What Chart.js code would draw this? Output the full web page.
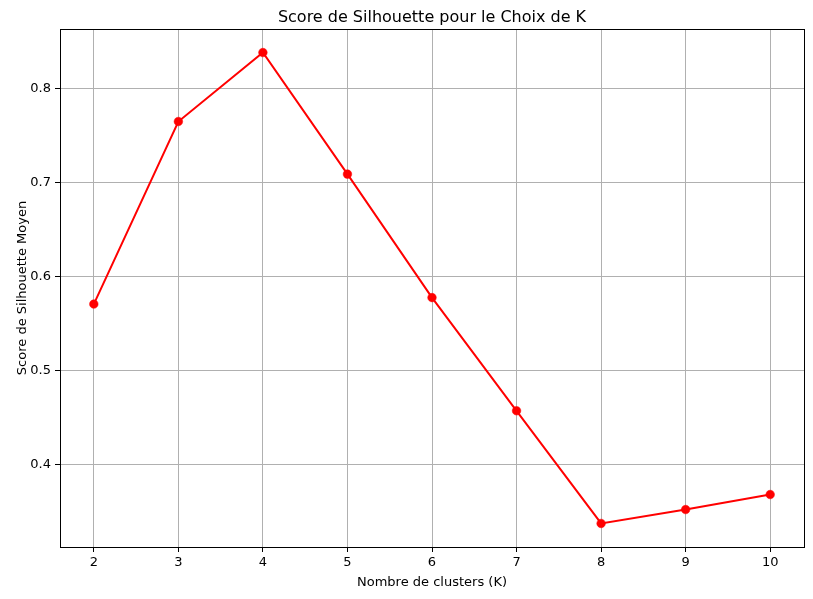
<!DOCTYPE html>
<html>
<head>
<meta charset="utf-8">
<script src="https://cdn.jsdelivr.net/npm/chart.js@4/dist/chart.umd.min.js"></script>
<style>
  html, body { margin: 0; padding: 0; background: #fff; }
  #wrap { width: 813px; height: 599px; }
</style>
</head>
<body>
<div id="wrap"><canvas id="c" width="813" height="599"></canvas></div>
<script>
const kValues = [2, 3, 4, 5, 6, 7, 8, 9, 10];
const silhouetteScores = [0.5705, 0.7648, 0.8382, 0.7088, 0.5774, 0.4569, 0.3370, 0.3518, 0.3678];
const xTicks = [2, 3, 4, 5, 6, 7, 8, 9, 10];
const yTicks = [0.4, 0.5, 0.6, 0.7, 0.8];
const chartTitle = 'Score de Silhouette pour le Choix de K';
const xTitle = 'Nombre de clusters (K)';
const yTitle = 'Score de Silhouette Moyen';

const FONT = "'DejaVu Sans', sans-serif";

const xMinData = Math.min(...kValues), xMaxData = Math.max(...kValues);
const yMinData = Math.min(...silhouetteScores), yMaxData = Math.max(...silhouetteScores);
const xPad = (xMaxData - xMinData) * 0.05;
const yPad = (yMaxData - yMinData) * 0.05;

const framePlugin = {
  id: 'frame',
  afterDraw(chart) {
    const {ctx, chartArea: a} = chart;
    ctx.save();
    ctx.strokeStyle = '#000';
    ctx.lineWidth = 1;
    ctx.strokeRect(Math.round(a.left) + 0.5, Math.round(a.top) + 0.5,
                   Math.round(a.right - a.left) - 1 + 1, Math.round(a.bottom - a.top));
    ctx.fillStyle = '#000';
    ctx.font = '16px ' + FONT;
    ctx.textAlign = 'center';
    ctx.textBaseline = 'alphabetic';
    ctx.fillText(chartTitle, (a.left + a.right) / 2, 22);
    ctx.restore();
  }
};

new Chart(document.getElementById('c'), {
  type: 'line',
  data: {
    datasets: [{
      data: kValues.map((k, i) => ({x: k, y: silhouetteScores[i]})),
      borderColor: '#ff0000',
      backgroundColor: '#ff0000',
      borderWidth: 2,
      pointRadius: 4.3,
      pointBorderWidth: 0.5,
      pointBackgroundColor: '#ff0000',
      pointBorderColor: '#ff0000',
      tension: 0,
      fill: false
    }]
  },
  options: {
    responsive: false,
    animation: false,
    devicePixelRatio: 1,
    layout: { padding: { top: 29, right: 9, left: 0, bottom: 0 } },
    plugins: {
      legend: { display: false },
      title: { display: false },
      tooltip: { enabled: false }
    },
    scales: {
      x: {
        type: 'linear',
        min: xMinData - xPad,
        max: xMaxData + xPad,
        afterBuildTicks(scale) { scale.ticks = xTicks.map(v => ({value: v})); },
        afterFit(scale) { scale.height = 52; },
        grid: { color: '#b0b0b0', lineWidth: 1, tickColor: '#000', tickLength: 5, drawOnChartArea: true },
        border: { display: false },
        ticks: {
          color: '#000', padding: 3, maxRotation: 0, autoSkip: false,
          font: { family: FONT, size: 13 },
          callback: v => String(v)
        },
        title: {
          display: true, text: xTitle, color: '#000',
          font: { family: FONT, size: 13 },
          padding: { top: 0, bottom: 9 }
        }
      },
      y: {
        type: 'linear',
        min: yMinData - yPad,
        max: yMaxData + yPad,
        afterBuildTicks(scale) { scale.ticks = yTicks.map(v => ({value: v})); },
        afterFit(scale) { scale.width = 60; },
        grid: { color: '#b0b0b0', lineWidth: 1, tickColor: '#000', tickLength: 5 },
        border: { display: false },
        ticks: {
          color: '#000', padding: 4, autoSkip: false,
          font: { family: FONT, size: 13 },
          callback: v => v.toFixed(1)
        },
        title: {
          display: true, text: yTitle, color: '#000',
          font: { family: FONT, size: 13 },
          padding: { top: 14.5, bottom: 0 }
        }
      }
    }
  },
  plugins: [framePlugin]
});
</script>
</body>
</html>
